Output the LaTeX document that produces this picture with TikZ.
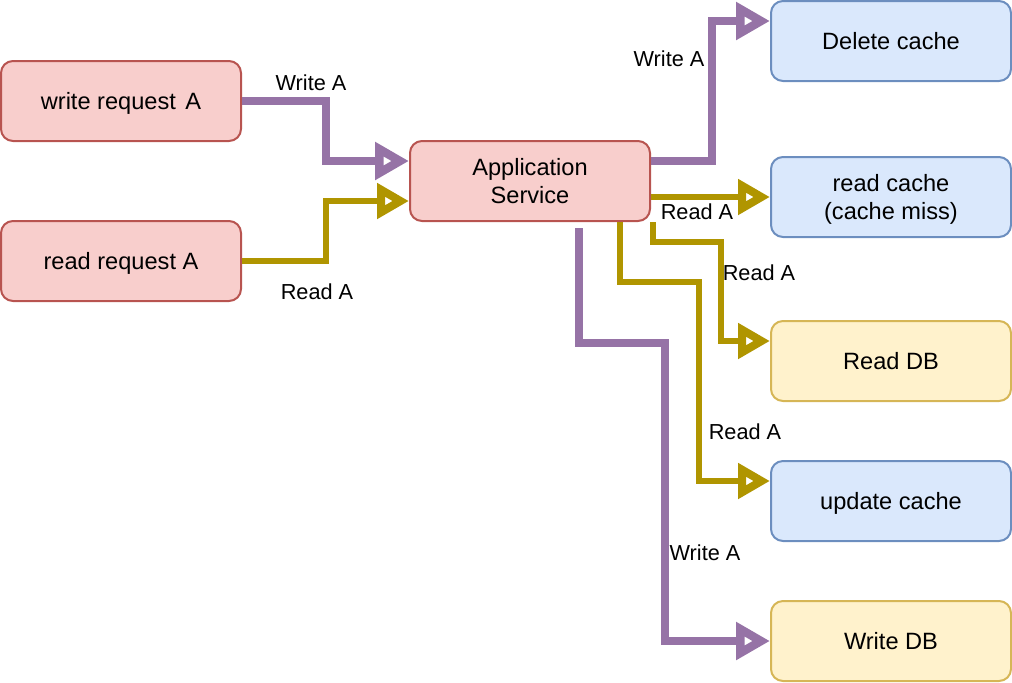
\documentclass[tikz,border=0pt]{standalone}
\usepackage{fontspec}
\setmainfont{Liberation Sans}
\usetikzlibrary{arrows.meta}
\definecolor{pinkF}{HTML}{F8CECC}
\definecolor{pinkD}{HTML}{B85450}
\definecolor{blueF}{HTML}{DAE8FC}
\definecolor{blueD}{HTML}{6C8EBF}
\definecolor{yelF}{HTML}{FFF2CC}
\definecolor{yelD}{HTML}{D6B656}
\definecolor{purp}{HTML}{9673A6}
\definecolor{gold}{HTML}{B09500}
\begin{document}
\begin{tikzpicture}[x=0.5pt,y=-0.5pt,
  box/.style={draw, rounded corners=6pt, line width=1pt, minimum width=120pt,
    minimum height=40pt, inner sep=0pt, align=center, text depth=0pt,
    font=\fontsize{11.8}{14}\selectfont},
  pinkbox/.style={box, fill=pinkF, draw=pinkD},
  bluebox/.style={box, fill=blueF, draw=blueD},
  yelbox/.style={box, fill=yelF, draw=yelD},
  wline/.style={draw=purp, line width=3.85pt,
    -{Triangle[open, length=17pt, width=18pt, line width=5pt]}},
  rline/.style={draw=gold, line width=3.1pt,
    -{Triangle[open, length=16pt, width=17pt, line width=4.2pt]}},
  lbl/.style={inner sep=0pt, font=\fontsize{10.85}{13}\selectfont}
]
\useasboundingbox (0,0) rectangle (1012,682);

\node[pinkbox] (wr) at (121,101) {write request\hspace{0.4em}A};
\node[pinkbox] (rr) at (121,261) {read request A};
\node[pinkbox] (app) at (530,181) {Application\\Service};
\node[bluebox] (del) at (891,41) {Delete cache};
\node[bluebox] (rc) at (891,197) {read cache\\(cache miss)};
\node[yelbox] (rdb) at (891,361) {Read DB};
\node[bluebox] (uc) at (891,501) {update cache};
\node[yelbox] (wdb) at (891,641) {Write DB};

% connectors
\draw[wline] (wr.east) -- ++(84,0) |- ([yshift=10pt]app.west);
\draw[rline] (rr.east) -- ++(84,0) |- ([yshift=-10pt]app.west);
\draw[wline] ([yshift=10pt]app.east) -- ++(61,0) |- ([yshift=10pt]del.west);
\draw[rline] ([yshift=-8pt]app.east) -- (rc.west);
\draw[rline] ([xshift=1pt]app.south east) -- ++(0,20) -- ++(68,0) |- ([yshift=10pt]rdb.west);
\draw[rline] ([xshift=45pt]app.south) -- ++(0,60) -- ++(79,0) |- ([yshift=10pt]uc.west);
\draw[wline] ([xshift=24.5pt,yshift=-3pt]app.south) -- ++(0,115) -- ++(86,0) |- (wdb.west);

% labels
\node[lbl] (l1) at (311,83) {Write A};
\node[lbl] (l2) at (317,292) {Read A};
\node[lbl] (l3) at (669,59) {Write A};
\node[lbl] (l4) at (697,212) {Read A};
\node[lbl] (l5) at (759,273) {Read A};
\node[lbl] (l6) at (745,432) {Read A};
\node[lbl] (l7) at (705,553) {Write A};
\end{tikzpicture}
\end{document}
